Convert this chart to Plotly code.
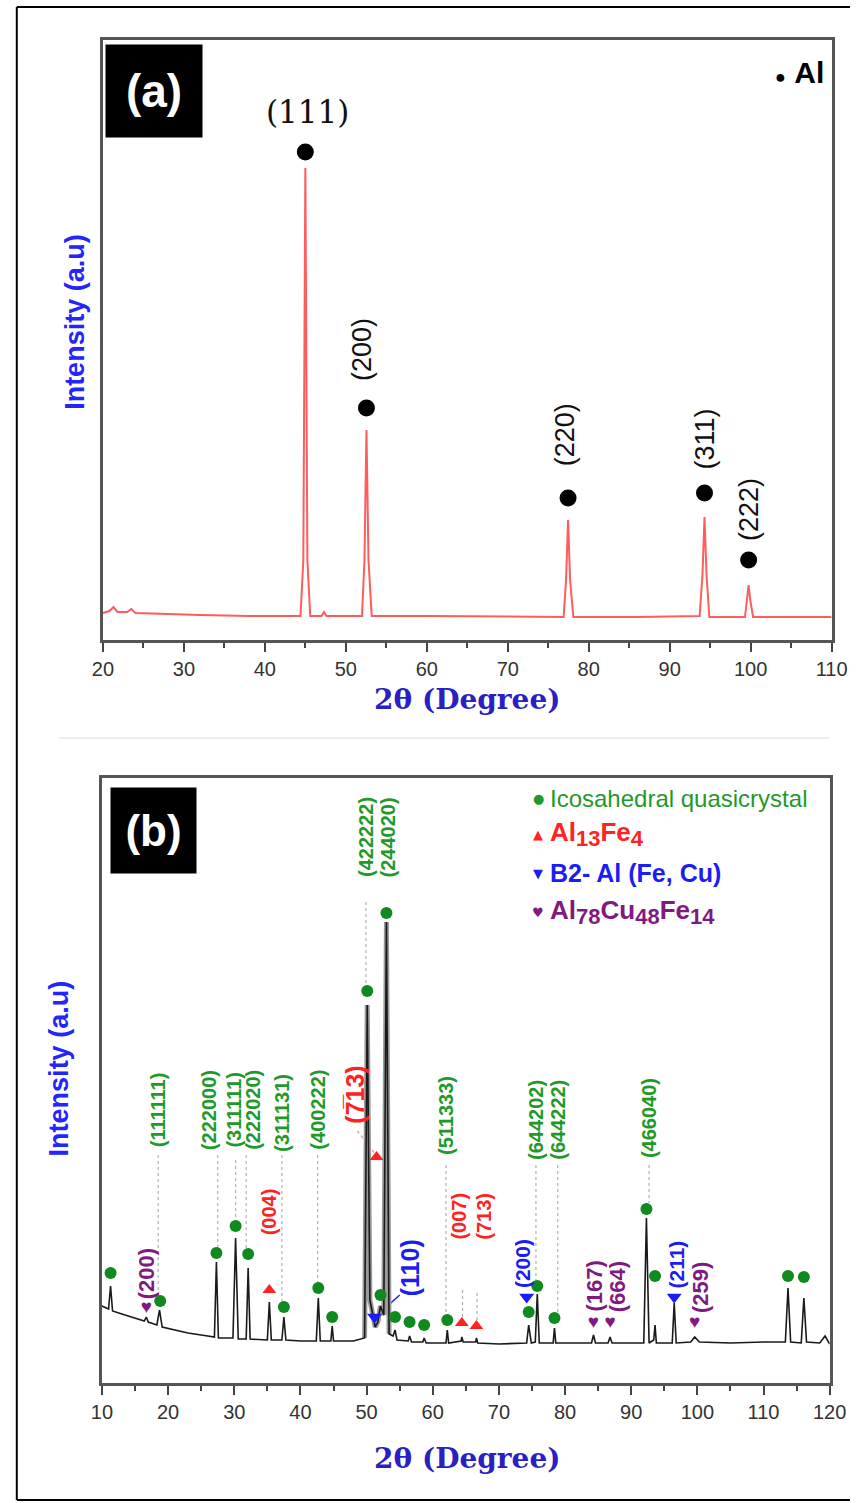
import plotly.graph_objects as go

W, H = 867, 1503
def px(x): return x / W
def py(y): return 1 - y / H

# ---------------- Panel (a): Al XRD pattern ----------------
a_two_theta = [20, 20.8, 21.3, 21.8, 23.0, 23.5, 24.0, 27, 32, 38, 44.4, 44.75, 45.0, 45.25, 45.6,
               47.0, 47.3, 47.6, 52.0, 52.3, 52.55, 52.8, 53.2, 60, 70, 76.9, 77.2, 77.45, 77.7, 78.1,
               86, 93.7, 94.05, 94.3, 94.55, 94.9, 99.3, 99.55, 99.75, 99.95, 100.3, 105, 110]
a_intensity = [27, 29, 33, 28, 28, 31, 27, 26, 25, 24, 24, 80, 472, 80, 24,
               24, 28, 24, 24, 80, 210, 80, 24, 24, 23, 23, 60, 120, 60, 23,
               23, 24, 65, 123, 65, 23, 23, 40, 55, 40, 23, 23, 23]
al_peak_x = [45.0, 52.55, 77.45, 94.3, 99.75]
al_peak_y = [488, 232, 142, 147, 80]
al_hkl = ["(111)", "(200)", "(220)", "(311)", "(222)"]
al_label_x = [45.3, 52.0, 77.1, 94.3, 99.8]
al_label_y = [528, 290, 205, 201, 130]

# ---------------- Panel (b): quasicrystal XRD pattern ----------------
b_two_theta = [10, 11, 11.3, 11.6, 13, 15, 16.4, 16.7, 17, 18.3, 18.7, 19.1, 21, 23, 25, 27, 27.3, 27.6,
               29.8, 30.2, 30.6, 31.8, 32.1, 32.4, 35.0, 35.3, 35.6, 37.2, 37.5, 37.8, 40, 42.4, 42.7, 43.0,
               44.6, 44.8, 45.0, 48, 49.7, 50.1, 50.5, 51.0, 51.3, 51.7, 52.1, 52.6, 53.0, 53.4, 54.0, 54.3,
               54.6, 56.3, 56.5, 56.8, 58.5, 58.7, 59, 62.0, 62.2, 62.4, 64.3, 64.4, 64.6, 66.5, 66.6, 66.8,
               70, 74.2, 74.5, 74.9, 75.5, 75.8, 76.1, 78.2, 78.4, 78.6, 84.0, 84.3, 84.6, 86.5, 86.8, 87.1,
               91.9, 92.3, 92.7, 93.4, 93.6, 93.8, 96.2, 96.5, 96.8, 99, 99.6, 100.3, 105, 110, 113.3, 113.7,
               114.1, 115.7, 116.1, 116.5, 118.5, 119.3, 120]
b_intensity = [77, 74, 97, 72, 69, 65, 62, 66, 61, 58, 73, 56, 53, 50, 48, 46, 121, 45,
               45, 145, 44, 44, 115, 44, 43, 81, 43, 43, 66, 43, 42, 42, 85, 42,
               42, 57, 42, 42, 45, 378, 83, 65, 56, 61, 77, 68, 461, 49, 47, 53,
               43, 42, 47, 41, 41, 45, 40, 40, 53, 40, 42, 46, 41, 41, 45, 40,
               39, 40, 58, 40, 41, 89, 40, 40, 55, 40, 40, 48, 40, 40, 46, 40,
               40, 165, 40, 43, 58, 40, 40, 80, 40, 41, 46, 41, 40, 41, 41, 95,
               41, 40, 85, 41, 40, 47, 39]

ico_x = [11.3, 18.8, 27.3, 30.2, 32.1, 37.5, 42.7, 44.8, 50.1, 53.0, 52.1, 54.3, 56.5, 58.7, 62.2,
         74.5, 75.8, 78.4, 92.3, 93.6, 113.7, 116.1]
ico_y = [110, 82, 130, 157, 129, 76, 95, 66, 392, 470, 88, 66, 61, 58, 63, 71, 97, 65, 174, 107, 107, 106]
alfe_x = [35.3, 51.5, 64.4, 66.6]
alfe_y = [93, 226, 60, 57]
b2_x = [51.2, 74.2, 96.5]
b2_y = [66, 86, 86]
alcufe_x = [16.7, 84.3, 86.8, 99.6]
alcufe_y = [75, 60, 60, 60]

green_lbl = ["(111111)", "(222000)", "(311111)", "(222020)", "(311131)", "(400222)", "(422222)",
             "(244020)", "(511333)", "(644202)", "(644222)", "(466040)"]
green_lbl_x = [18.5, 26.2, 29.9, 32.8, 37.2, 42.6, 49.9, 53.3, 62.0, 75.6, 78.9, 92.7]
green_lbl_y = [273, 273, 273, 273, 270, 273, 546, 546, 268, 263, 263, 265]
red_lbl = ["(004)", "(007)", "(713)"]
red_lbl_x = [35.3, 63.9, 67.7]
red_lbl_y = [171, 167, 167]
blue_lbl = ["(200)", "(211)"]
blue_lbl_x = [73.5, 96.7]
blue_lbl_y = [119, 118]
purple_lbl = ["(200)", "(167)", "(664)", "(259)"]
purple_lbl_x = [16.7, 84.3, 87.9, 100.4]
purple_lbl_y = [109, 97, 96, 95]

# dashed guide lines: x, top, bottom
guide_x = [18.5, 27.5, 30.2, 31.8, 37.2, 42.6, 49.9, 62.0, 75.6, 78.9, 92.7, 64.5, 66.7]
guide_top = [228, 228, 223, 228, 228, 228, 481, 218, 218, 218, 218, 93, 90]
guide_bot = [85, 134, 163, 133, 82, 100, 398, 68, 100, 68, 180, 64, 61]

GREEN = "#1f9a2a"
RED = "#ff2222"
BLUE = "#1c1cf5"
PURPLE = "#801a80"

fig = go.Figure()

# panel a trace
fig.add_trace(go.Scatter(x=a_two_theta, y=a_intensity, mode="lines",
                         line=dict(color="#ff5c5c", width=2), xaxis="x", yaxis="y"))
fig.add_trace(go.Scatter(x=al_peak_x, y=al_peak_y, mode="markers",
                         marker=dict(color="black", size=17), xaxis="x", yaxis="y"))

# panel b guides
gx, gy = [], []
for x, t, b in zip(guide_x, guide_top, guide_bot):
    gx += [x, x, None]
    gy += [t, b, None]
fig.add_trace(go.Scatter(x=gx, y=gy, mode="lines", line=dict(color="#b0b0b0", width=1.2, dash="dot"),
                         xaxis="x2", yaxis="y2"))
# leader lines
fig.add_trace(go.Scatter(x=[48.6, 51.2], y=[252, 230], mode="lines",
                         line=dict(color="#ff8080", width=1.2, dash="dot"), xaxis="x2", yaxis="y2"))
fig.add_trace(go.Scatter(x=[55.0, 52.0], y=[88, 70], mode="lines",
                         line=dict(color=BLUE, width=1.5), xaxis="x2", yaxis="y2"))

# grey body of the strongest reflections
sel = [i for i, t in enumerate(b_two_theta) if 49.5 <= t <= 53.5]
fig.add_trace(go.Scatter(x=[b_two_theta[i] for i in sel], y=[b_intensity[i] for i in sel], mode="lines",
                         line=dict(color="#9a9a9a", width=5), xaxis="x2", yaxis="y2"))
# panel b trace
fig.add_trace(go.Scatter(x=b_two_theta, y=b_intensity, mode="lines",
                         line=dict(color="#1a1a1a", width=1.6), xaxis="x2", yaxis="y2"))
fig.add_trace(go.Scatter(x=ico_x, y=ico_y, mode="markers",
                         marker=dict(color="#0e8a1e", size=12), xaxis="x2", yaxis="y2"))
fig.add_trace(go.Scatter(x=alfe_x, y=alfe_y, mode="markers",
                         marker=dict(color=RED, size=12, symbol="triangle-up"), xaxis="x2", yaxis="y2"))
fig.add_trace(go.Scatter(x=b2_x, y=b2_y, mode="markers",
                         marker=dict(color=BLUE, size=13, symbol="triangle-down"), xaxis="x2", yaxis="y2"))
fig.add_trace(go.Scatter(x=alcufe_x, y=alcufe_y, mode="text", text=["♥"] * len(alcufe_x),
                         textfont=dict(color=PURPLE, size=19), xaxis="x2", yaxis="y2"))

ann = []
# panel a labels
for i, (t, x, y) in enumerate(zip(al_hkl, al_label_x, al_label_y)):
    if i == 0:
        ann.append(dict(x=x, y=y, xref="x", yref="y", text=t, showarrow=False,
                        xanchor="center", yanchor="middle",
                        font=dict(family="DejaVu Serif", size=31, color="#111")))
    else:
        ann.append(dict(x=x, y=y, xref="x", yref="y", text=t, showarrow=False, textangle=-90,
                        xanchor="center", yanchor="middle",
                        font=dict(family="Liberation Sans", size=27, color="#111")))

def blbl(texts, xs, ys, color, size, bold=True):
    for t, x, y in zip(texts, xs, ys):
        ann.append(dict(x=x, y=y, xref="x2", yref="y2", text=(f"<b>{t}</b>" if bold else t),
                        showarrow=False, textangle=-90, xanchor="center", yanchor="middle",
                        font=dict(family="Liberation Sans", size=size, color=color)))

blbl(green_lbl, green_lbl_x, green_lbl_y, GREEN, 20)
blbl(red_lbl, red_lbl_x, red_lbl_y, RED, 20)
blbl(["(7\u030513)"], [48.2], [288], RED, 25)
blbl(blue_lbl, blue_lbl_x, blue_lbl_y, BLUE, 21)
blbl(["(110)"], [56.6], [115], BLUE, 25)
blbl(purple_lbl, purple_lbl_x, purple_lbl_y, PURPLE, 22)

def pann(text, cx, cy, size, color, family="Liberation Sans", angle=0, xanchor="center", **kw):
    d = dict(x=px(cx), y=py(cy), xref="paper", yref="paper", text=text, showarrow=False,
             xanchor=xanchor, yanchor="middle", textangle=angle,
             font=dict(family=family, size=size, color=color))
    d.update(kw)
    ann.append(d)

# axis titles
for (cx, cy) in [(66, 322), (50, 1068)]:
    pann("<b>Intensity (a.u)</b>", cx, cy, 27, "#2424ff", angle=-90)
for (cx, cy) in [(471, 699), (471, 1458)]:
    pann("<b>2θ (Degree)</b>", cx, cy, 28, "#2b1fc4", family="DejaVu Serif")

# panel labels (black boxes)
pann("<b>(a)</b>", 148, 91, 46, "white", bgcolor="black", width=96, height=92, borderpad=0)
pann("<b>(b)</b>", 147, 830, 44, "white", bgcolor="black", width=85, height=85, borderpad=0)

# panel a legend
pann("<span style='font-size:18px'>●</span> <b>Al</b>", 842, 72, 30, "black", xanchor="right")

# panel b legend
SUB = "<sub><span style='font-size:22px'>{}</span></sub>"
leg = [("●", "Icosahedral quasicrystal", GREEN, 798, False, 24),
       ("▲", "Al" + SUB.format("13") + "Fe" + SUB.format("4"), RED, 834, True, 26),
       ("▼", "B2- Al (Fe, Cu)", BLUE, 873, True, 25),
       ("♥", "Al" + SUB.format("78") + "Cu" + SUB.format("48") + "Fe" + SUB.format("14"), PURPLE, 912, True, 26)]
for sym, txt, col, yy, bold, fs in leg:
    pann(sym, 545, yy, 13, col, family="DejaVu Sans")
    pann((f"<b>{txt}</b>" if bold else txt), 555, yy, fs, col, xanchor="left")

shapes = [
    dict(type="line", xref="paper", yref="paper", x0=px(6), x1=px(6), y0=py(1500), y1=py(7),
         line=dict(color="black", width=2)),
    dict(type="line", xref="paper", yref="paper", x0=px(6), x1=1, y0=py(7), y1=py(7),
         line=dict(color="black", width=2)),
    dict(type="line", xref="paper", yref="paper", x0=px(6), x1=1, y0=py(1500), y1=py(1500),
         line=dict(color="black", width=2)),
    dict(type="line", xref="paper", yref="paper", x0=px(50), x1=px(845), y0=py(738), y1=py(738),
         line=dict(color="#e4e4e4", width=1.5)),
]

xcommon = dict(showgrid=False, zeroline=False, showline=True, linecolor="#555", linewidth=3, mirror=True,
               ticks="outside", ticklen=9, tickwidth=2, tickcolor="#444", dtick=10,
               tickfont=dict(family="Liberation Sans", size=20, color="#333"),
               minor=dict(ticks="outside", ticklen=5, tickwidth=2, tickcolor="#444", dtick=5))
ycommon = dict(showgrid=False, zeroline=False, showline=True, linecolor="#555", linewidth=3, mirror=True,
               showticklabels=False, ticks="")

fig.update_layout(
    width=W, height=H, margin=dict(l=0, r=0, t=0, b=0),
    paper_bgcolor="white", plot_bgcolor="white", showlegend=False,
    xaxis=dict(xcommon, range=[20, 110], domain=[px(95), px(848)], anchor="y", tick0=20),
    yaxis=dict(ycommon, range=[0, 600], domain=[py(640), py(40)], anchor="x"),
    xaxis2=dict(xcommon, range=[10, 120], domain=[px(94), px(846)], anchor="y2", tick0=10),
    yaxis2=dict(ycommon, range=[0, 605], domain=[py(1383), py(778)], anchor="x2"),
    annotations=ann, shapes=shapes,
)

fig.write_html("out.html")
